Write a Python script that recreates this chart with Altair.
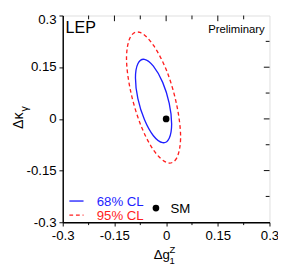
import altair as alt
import pandas as pd

# ---- data ----
blue_x = [0.016, 0.009, -0.010, -0.037, -0.063, -0.082, -0.089, -0.082, -0.063, -0.037, -0.010, 0.009]
blue_y = [-0.015, -0.056, -0.069, -0.049, -0.002, 0.059, 0.119, 0.160, 0.173, 0.153, 0.106, 0.045]
red_x = [0.042, 0.031, 0.003, -0.037, -0.076, -0.104, -0.115, -0.104, -0.076, -0.037, 0.003, 0.031]
red_y = [-0.052, -0.113, -0.127, -0.090, -0.012, 0.085, 0.176, 0.237, 0.251, 0.214, 0.136, 0.039]
sm_x = [0.0]
sm_y = [0.0]
major_ticks = [-0.3, -0.15, 0, 0.15, 0.3]
inner_major = [-0.15, 0, 0.15]
minor_ticks = [-0.225, -0.075, 0.075, 0.225]

W = 219
H = 219
FONT = "Liberation Sans"
BLUE = "#1e1eff"
RED = "#ff1e1e"

x_scale = alt.Scale(domain=[-0.3, 0.3], nice=False, zero=False, padding=0)
y_scale = alt.Scale(domain=[-0.3, 0.3], nice=False, zero=False, padding=0)

common_axis = dict(values=major_ticks, labelExpr="'' + datum.value", tickSize=4,
                   tickColor="black", tickWidth=1, domainColor="black", domainWidth=1.5,
                   labelFont=FONT, labelFontSize=14, labelColor="black", labelPadding=3,
                   labelFlush=False, labelOverlap=False, labelBound=False,
                   grid=False, title=None)
x_axis = alt.Axis(**common_axis)
y_axis = alt.Axis(labelOffset=alt.condition("datum.value == 0.3", alt.value(5), alt.value(0)),
                  **common_axis)


def X(field):
    return alt.X(field, type="quantitative", scale=x_scale, axis=x_axis, title=None)


def Y(field):
    return alt.Y(field, type="quantitative", scale=y_scale, axis=y_axis, title=None)


blue_df = pd.DataFrame({"x": blue_x, "y": blue_y, "i": list(range(len(blue_x)))})
red_df = pd.DataFrame({"x": red_x, "y": red_y, "i": list(range(len(red_x)))})
sm_df = pd.DataFrame({"x": sm_x, "y": sm_y})

red = alt.Chart(red_df).mark_line(interpolate="cardinal-closed", color=RED, strokeWidth=1.4,
                                  strokeDash=[4, 3]).encode(x=X("x"), y=Y("y"), order="i:Q")
blue = alt.Chart(blue_df).mark_line(interpolate="cardinal-closed", color=BLUE,
                                    strokeWidth=1.4).encode(x=X("x"), y=Y("y"), order="i:Q")
sm = alt.Chart(sm_df).mark_point(filled=True, color="black", size=50, opacity=1).encode(
    x=X("x"), y=Y("y"))

# mirrored ticks on top and right (inward), minor ticks
top_major = alt.Chart(pd.DataFrame({"v": inner_major})).mark_rule(color="black", strokeWidth=1).encode(
    x=X("v"), y=alt.value(0), y2=alt.value(6))
top_minor = alt.Chart(pd.DataFrame({"v": minor_ticks})).mark_rule(color="black", strokeWidth=1).encode(
    x=X("v"), y=alt.value(0), y2=alt.value(4))
right_major = alt.Chart(pd.DataFrame({"v": inner_major})).mark_rule(color="black", strokeWidth=1).encode(
    y=Y("v"), x=alt.value(W), x2=alt.value(W - 6))
right_minor = alt.Chart(pd.DataFrame({"v": minor_ticks})).mark_rule(color="black", strokeWidth=1).encode(
    y=Y("v"), x=alt.value(W), x2=alt.value(W - 4))
bottom_minor = alt.Chart(pd.DataFrame({"v": minor_ticks})).mark_rule(color="black", strokeWidth=1).encode(
    x=X("v"), y=alt.value(H), y2=alt.value(H + 3))


def txt(t, x, y, size, color="black", align="left", angle=0, baseline="alphabetic"):
    return alt.Chart(pd.DataFrame({"t": [t]})).mark_text(
        font=FONT, fontSize=size, color=color, align=align, baseline=baseline, angle=angle
    ).encode(x=alt.value(x), y=alt.value(y), text="t:N")


texts = [
    txt("LEP", 3, 18, 17),
    txt("Preliminary", 214, 18, 12, align="right"),
    txt("68% CL", 36, 201.5, 14, color=BLUE),
    txt("95% CL", 36, 216.5, 14, color=RED),
    txt("SM", 114, 209.5, 14),
    # x title: Δg with sub 1 and sup Z
    txt("Δg", 105, 258, 14, align="center"),
    txt("Z", 113, 252, 10),
    txt("1", 113, 263, 10),
    # y title: Δκ with sub γ
    txt("Δκ", -42, 111.5, 15, align="center", angle=270),
    txt("γ", -37, 99, 11, align="center", angle=270),
]

leg_blue = alt.Chart(pd.DataFrame({"a": [0]})).mark_rule(color=BLUE, strokeWidth=1.4).encode(
    x=alt.value(7), x2=alt.value(22), y=alt.value(196.5))
leg_red = alt.Chart(pd.DataFrame({"a": [0]})).mark_rule(color=RED, strokeWidth=1.4, strokeDash=[4, 3]).encode(
    x=alt.value(7), x2=alt.value(22), y=alt.value(211.5))
leg_dot = alt.Chart(pd.DataFrame({"a": [0]})).mark_point(filled=True, color="black", size=50, opacity=1).encode(
    x=alt.value(98.7), y=alt.value(204))

chart = alt.layer(
    red, blue, sm, top_major, top_minor, right_major, right_minor, bottom_minor,
    leg_blue, leg_red, leg_dot, *texts
).properties(
    width=W, height=H,
    autosize=alt.AutoSizeParams(type="none"),
    padding={"left": 58, "top": 0, "right": 9, "bottom": 50},
).configure_view(stroke="black", strokeWidth=1.5).configure(background="white")

chart.save("out.html", embed_options={"renderer": "svg", "actions": False})
